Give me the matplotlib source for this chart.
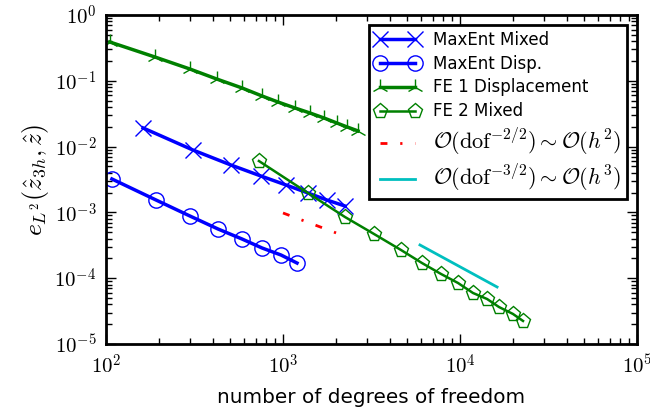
import matplotlib
matplotlib.use("Agg")
import matplotlib.pyplot as plt
from matplotlib.ticker import FuncFormatter
import math

plt.rcParams["mathtext.fontset"] = "cm"
plt.rcParams["font.family"] = "DejaVu Sans"
plt.rcParams["font.size"] = 12

# MaxEnt mixed
me_mixed_dof = [162, 310, 508, 751, 1040, 1384, 1773, 2240]
me_mixed_err = [0.0192, 0.00887, 0.00525, 0.00357, 0.00261, 0.00197, 0.00154, 0.00125]

# MaxEnt displacement
me_disp_dof = [108, 192, 298, 429, 587, 761, 975, 1200]
me_disp_err = [0.00322, 0.00154, 0.000881, 0.00056, 0.000394, 0.000288, 0.000225, 0.00017]

# FE 1 displacement
fe1_dof = [105, 189, 298, 424, 587, 761, 937, 1169, 1421, 1705, 2018, 2300, 2653]
fe1_err = [0.389, 0.230, 0.151, 0.106, 0.0778, 0.0588, 0.0476, 0.0386, 0.0324,
           0.0272, 0.0228, 0.0199, 0.0173]

# FE 2 mixed
fe2_dof = [731, 1384, 2240, 3266, 4645, 6100, 7810, 9750, 11840, 14220, 16600,
           19920, 22700]
fe2_err = [0.00604, 0.00197, 0.000851, 0.00047, 0.000268, 0.00017, 0.000116,
           8.45e-5, 5.96e-5, 4.83e-5, 3.65e-5, 2.86e-5, 2.24e-5]

# reference slopes
ref2_dof = [1000, 2070]
ref2_err = [9.8e-4, 4.7e-4]
ref3_dof = [5940, 16200]
ref3_err = [3.2e-4, 7.35e-5]

fig = plt.figure(figsize=(6.5, 4.07), dpi=100)
ax = fig.add_axes([106 / 650, 1 - 344 / 407, 531 / 650, 329 / 407])

ax.loglog(me_mixed_dof, me_mixed_err, "bx-", lw=2.5, ms=11, mew=1,
          label="MaxEnt Mixed")
ax.loglog(me_disp_dof, me_disp_err, "bo-", lw=2.5, ms=11, mew=1, mfc="none",
          label="MaxEnt Disp.")
ax.loglog(fe1_dof, fe1_err, "g2-", lw=2.5, ms=12, mew=1,
          label="FE 1 Displacement")
ax.loglog(fe2_dof, fe2_err, "gp-", lw=1.8, ms=11, mew=1, mfc="none",
          label="FE 2 Mixed")
ax.loglog(ref2_dof, ref2_err, color="r", lw=2, ls=(0, (2.5, 4.6, 0.8, 4.6)),
          label=r"$\mathcal{O}(\mathrm{dof}^{-2/2}) \sim \mathcal{O}(h^2)$")
ax.loglog(ref3_dof, ref3_err, color="c", lw=2,
          label=r"$\mathcal{O}(\mathrm{dof}^{-3/2}) \sim \mathcal{O}(h^3)$")

ax.set_xlim(1e2, 1e5)
ax.set_ylim(1e-5, 1e0)
ax.set_xlabel("number of degrees of freedom", fontsize=14.4, labelpad=7)
ax.set_ylabel(r"$e_{L^2}(\hat{z}_{3h},\hat{z})$", fontsize=18.5, labelpad=2)

exp_fmt = FuncFormatter(lambda v, pos: r"$10^{%d}$" % round(math.log10(v)))
ax.xaxis.set_major_formatter(exp_fmt)
ax.yaxis.set_major_formatter(exp_fmt)

ax.tick_params(which="both", direction="in", top=True, right=True, labelsize=15)
ax.tick_params(which="major", length=7, width=1, pad=7)
ax.tick_params(which="minor", length=4, width=1)
for s in ax.spines.values():
    s.set_linewidth(2)

leg = ax.legend(loc="upper right", numpoints=2, fancybox=False, framealpha=1,
                edgecolor="black", fontsize=12, handlelength=2.7,
                handletextpad=0.8, borderpad=0.35, borderaxespad=0.6,
                labelspacing=0.35)
leg.get_frame().set_linewidth(2)
for t in leg.get_texts()[4:]:
    t.set_fontsize(16)

fig.savefig("out.png", dpi=100)
